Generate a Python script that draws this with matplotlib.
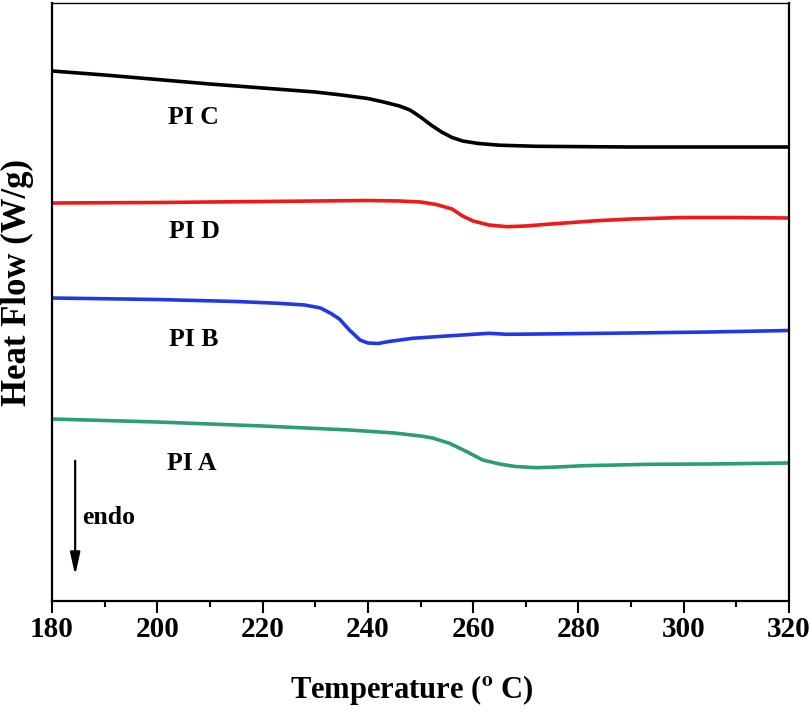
import matplotlib
matplotlib.use('Agg')
import matplotlib.pyplot as plt
from matplotlib.ticker import MultipleLocator

plt.rcParams['font.family'] = ['Liberation Serif', 'DejaVu Serif']
plt.rcParams['font.weight'] = 'bold'
plt.rcParams['mathtext.fontset'] = 'stix'

# heat flow traces, arbitrary units with the offsets as in the figure
temp_c = [180, 190, 200, 210, 220, 230, 235, 240, 243, 246, 248, 250, 252, 254, 256, 258, 261, 265, 272, 290, 320]
flow_c = [5.30, 5.26, 5.215, 5.17, 5.13, 5.09, 5.06, 5.025, 4.99, 4.95, 4.91, 4.84, 4.76, 4.69, 4.635, 4.60, 4.575, 4.558, 4.547, 4.54, 4.54]

temp_d = [180, 200, 220, 240, 246, 250, 253, 256, 258, 260, 263, 266.4, 270, 274, 283.5, 290, 300, 310, 320]
flow_d = [3.98, 3.985, 3.995, 4.005, 4.00, 3.99, 3.965, 3.92, 3.85, 3.80, 3.76, 3.743, 3.75, 3.767, 3.803, 3.82, 3.835, 3.835, 3.83]

temp_b = [180, 200, 215, 223, 228, 231, 233, 234.6, 236.5, 238.5, 240, 242, 244, 248.5, 255, 263, 266.4, 272.6, 290, 305, 320]
flow_b = [3.03, 3.015, 2.995, 2.977, 2.96, 2.93, 2.875, 2.82, 2.71, 2.61, 2.58, 2.575, 2.595, 2.627, 2.65, 2.677, 2.667, 2.67, 2.68, 2.69, 2.705]

temp_a = [180, 200, 220, 236.5, 245, 250, 252.3, 255.5, 258.8, 261.8, 265, 268, 272, 276, 281, 293.6, 305, 320]
flow_a = [1.82, 1.79, 1.75, 1.71, 1.68, 1.65, 1.63, 1.577, 1.493, 1.41, 1.37, 1.345, 1.333, 1.34, 1.353, 1.367, 1.37, 1.38]

names = ['PI C', 'PI D', 'PI B', 'PI A']
colors = ['black', '#f01818', '#2038e6', '#2b9d78']
label_x = [206.8, 207.0, 207.0, 206.6]
label_y = [4.84, 3.69, 2.61, 1.38]

fig = plt.figure(figsize=(8.1, 7.2), dpi=100)
ax = fig.add_axes([52 / 810, 1 - 601 / 720, 737 / 810, 598 / 720])

series = [(temp_c, flow_c), (temp_d, flow_d), (temp_b, flow_b), (temp_a, flow_a)]
for (t, f), c in zip(series, colors):
    ax.plot(t, f, color=c, lw=2.6, solid_joinstyle='round')

for n, x, y in zip(names, label_x, label_y):
    ax.text(x, y, n, fontsize=18.5, fontweight='bold', ha='center', va='center')

# endo arrow
ax.annotate('', xy=(184.4, 0.23), xytext=(184.4, 1.43),
            arrowprops=dict(arrowstyle='-|>,head_width=0.2,head_length=0.9', color='black',
                            lw=1.6, mutation_scale=15))
ax.text(185.7, 0.83, 'endo', fontsize=18.5, fontweight='bold', ha='left', va='center')

ax.set_xlim(180, 320)
ax.set_ylim(0, 5.98)
ax.xaxis.set_major_locator(MultipleLocator(20))
ax.xaxis.set_minor_locator(MultipleLocator(10))
ax.tick_params(axis='x', which='major', direction='out', length=8.5, width=1.5, labelsize=21, pad=2)
ax.tick_params(axis='x', which='minor', direction='out', length=4, width=1.5)
ax.set_yticks([])
for lab in ax.get_xticklabels():
    lab.set_fontweight('bold')
for s in ['left', 'bottom', 'right']:
    ax.spines[s].set_linewidth(1.6)
ax.spines['top'].set_linewidth(1.0)

fig.text(412 / 810, 1 - 690 / 720, r'Temperature ($^\mathbf{o}$ C)', fontsize=22,
         fontweight='bold', ha='center', va='center')
fig.text(17 / 810, 1 - 283 / 720, 'Heat Flow (W/g)', fontsize=25, fontweight='bold',
         rotation=90, ha='center', va='center')

fig.savefig('out.png', dpi=100)
